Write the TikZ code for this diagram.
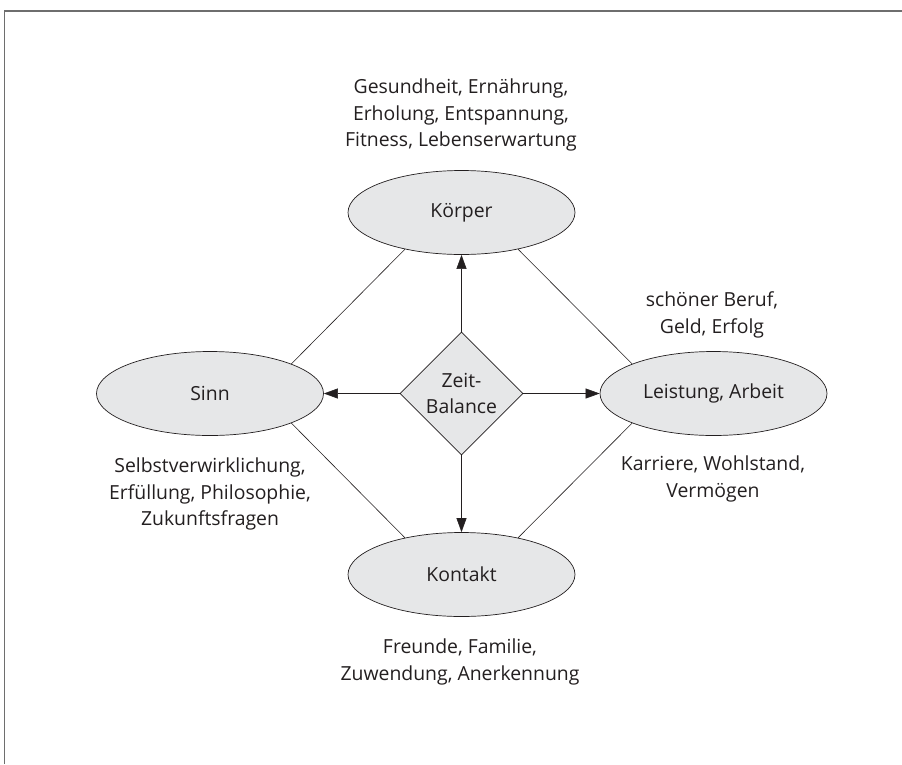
\documentclass[tikz,border=0pt]{standalone}
\usepackage{fontspec}
\setmainfont{Open Sans}
\usetikzlibrary{shapes.geometric,arrows.meta}
\definecolor{fillgray}{HTML}{E6E7E8}
\definecolor{framegray}{HTML}{6E6E6E}
\definecolor{ink}{HTML}{231F20}
\begin{document}
\begin{tikzpicture}[x=1pt,y=-1pt,
  bubble/.style={ellipse,draw=ink,line width=0.7pt,fill=fillgray,minimum width=227pt,minimum height=84pt,inner sep=0pt,text=ink,font=\fontsize{19.4}{26.5}\selectfont},
  hub/.style={diamond,draw=ink,line width=0.7pt,fill=fillgray,minimum width=123pt,minimum height=123pt,inner sep=0pt,align=center,text=ink,font=\fontsize{19.4}{26}\selectfont},
  lbl/.style={align=center,inner sep=0pt,text=ink,font=\fontsize{19.4}{26.5}\selectfont},
  link/.style={draw=ink,line width=0.6pt},
  arr/.style={link,-{Triangle[length=14pt,width=10pt]}}]
\useasboundingbox (0,0) rectangle (902,764);
\draw[framegray,line width=1.3pt] (4.5,764) -- (4.5,11) -- (902,11);

\node[bubble] (koerper) at (461.5,212.5) {Körper};
\node[bubble] (sinn) at (210,393.5) {Sinn};
\node[bubble] (leistung) at (713.5,393.5) {Leistung, Arbeit};
\node[bubble] (kontakt) at (461.5,574.5) {Kontakt};
\node[hub] (zeit) at (461.5,393.5) {Zeit-\\Balance};

\draw[arr] (zeit.north) -- (koerper.south);
\draw[arr] (zeit.west) -- (sinn.east);
\draw[arr] (zeit.east) -- (leistung.west);
\draw[arr] (zeit.south) -- (kontakt.north);

\draw[link] (sinn.20) -- (koerper.213);
\draw[link] (koerper.327) -- (leistung.160);
\draw[link] (sinn.340) -- (kontakt.147);
\draw[link] (kontakt.33) -- (leistung.200);

\node[lbl] (tkoerper) at (461,115) {Gesundheit, Ernährung,\\Erholung, Entspannung,\\Fitness, Lebenserwartung};
\node[lbl] (tsinn) at (210,494) {Selbstverwirklichung,\\Erfüllung, Philosophie,\\Zukunftsfragen};
\node[lbl] (tleist1) at (712,315) {schöner Beruf,\\Geld, Erfolg};
\node[lbl] (tleist2) at (713,479) {Karriere, Wohlstand,\\Vermögen};
\node[lbl] (tkontakt) at (460,662) {Freunde, Familie,\\Zuwendung, Anerkennung};
\end{tikzpicture}
\end{document}
